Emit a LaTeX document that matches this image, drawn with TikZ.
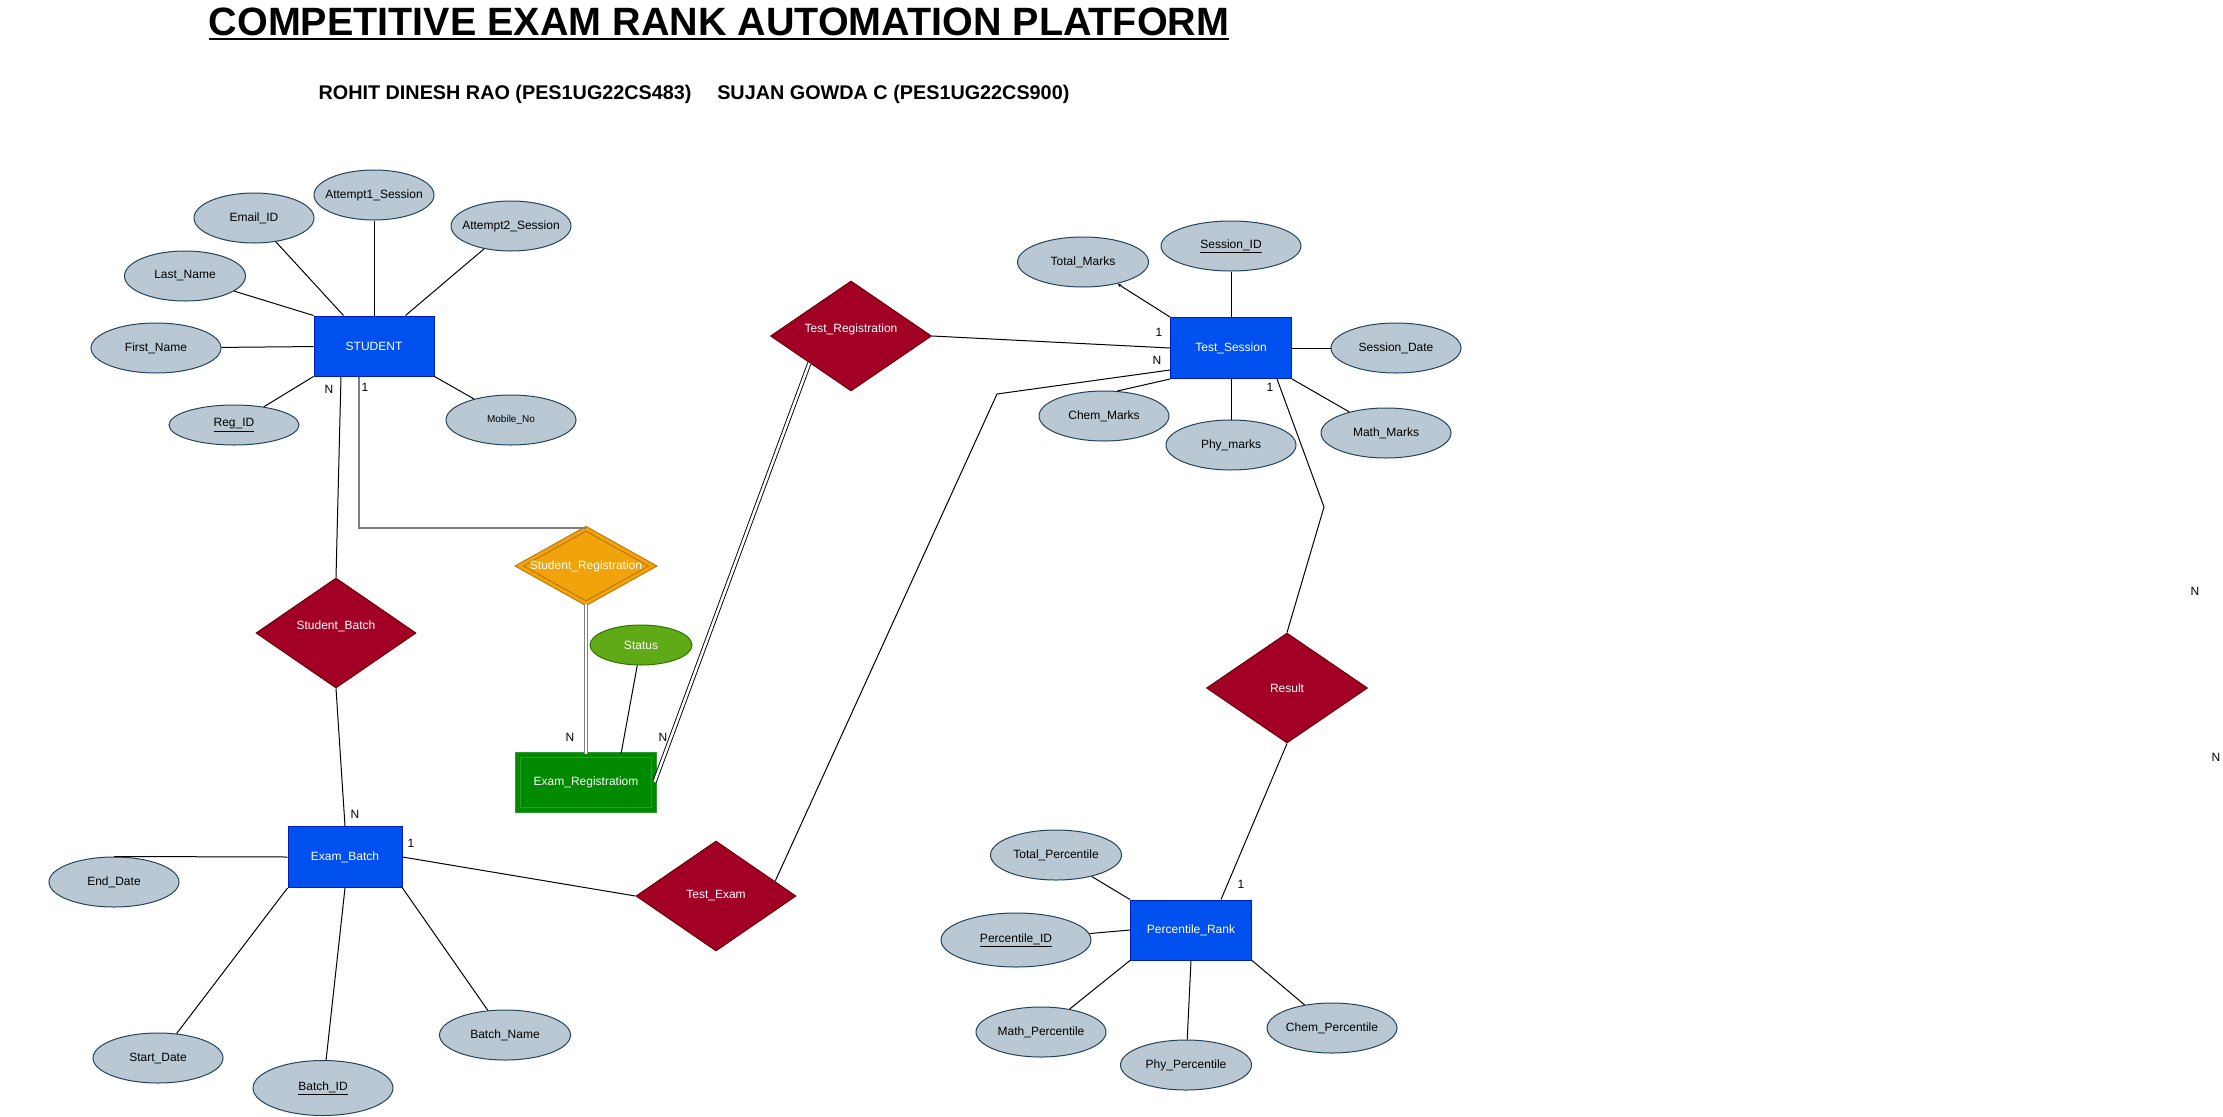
\documentclass[tikz,border=0pt]{standalone}
\usepackage{fontspec}
\setmainfont{Liberation Sans}
\usepackage{tikz}
\usetikzlibrary{arrows.meta,shapes.geometric,calc}
\definecolor{entfill}{HTML}{0050EF}
\definecolor{entline}{HTML}{001DBC}
\definecolor{relfill}{HTML}{A20025}
\definecolor{relline}{HTML}{6F0000}
\definecolor{attfill}{HTML}{BAC8D3}
\definecolor{attline}{HTML}{23445D}
\definecolor{regfill}{HTML}{F0A30A}
\definecolor{regline}{HTML}{BD7000}
\definecolor{wkfill}{HTML}{008A00}
\definecolor{wkline}{HTML}{2D9A2D}
\definecolor{stfill}{HTML}{60A917}
\definecolor{stline}{HTML}{2D7600}

\begin{document}
\begin{tikzpicture}[x=1pt, y=-1pt,
    every node/.style={font=\fontsize{12}{14}\selectfont, align=center},
    ent/.style={draw=entline, fill=entfill, text=white, line width=1pt,
                minimum width=120pt, minimum height=60pt, inner sep=0pt},
    rel/.style={diamond, draw=relline, fill=relfill, text=white, line width=1pt,
                minimum width=160pt, minimum height=110pt, inner sep=0pt, aspect=1.45},
    att/.style={ellipse, draw=attline, fill=attfill, line width=1pt,
                minimum width=130pt, minimum height=50pt, inner xsep=-14pt, inner ysep=0pt},
    lnk/.style={line width=1pt},
    glnk/.style={line width=1.5pt, draw=gray},
    gdbl/.style={line width=1.2pt, draw=gray, double=white, double distance=2pt},
    bdbl/.style={line width=0.9pt, draw=black, double=white, double distance=2.5pt},
    card/.style={inner sep=0pt},
  ]
  \useasboundingbox (0,0) rectangle (2223,1116);

  \node[font=\fontsize{39.5}{46}\selectfont\bfseries, anchor=base, inner sep=0pt] (ttl) at (719,36) {COMPETITIVE EXAM RANK AUTOMATION PLATFORM};
  \draw[line width=2.5pt] ([yshift=-3pt]ttl.base west) -- ([yshift=-3pt]ttl.base east);
  \node[font=\fontsize{19.8}{24}\selectfont\bfseries, anchor=base] (auth) at (694,99) {ROHIT DINESH RAO (PES1UG22CS483)\hspace{1.3em}SUJAN GOWDA C (PES1UG22CS900)};

  % entities
  \node[ent] (stu) at (374,346) {STUDENT};
  \node[ent, minimum width=114pt, minimum height=61pt] (ebatch) at (345,857) {Exam\_Batch};
  \node[ent, minimum width=121pt, minimum height=61pt] (tses) at (1231,348) {Test\_Session};
  \node[ent, minimum width=121pt] (prank) at (1191,930) {Percentile\_Rank};
  \node[ent, draw=wkline, fill=wkfill, double=wkfill, double distance=4pt,
        minimum width=136pt, minimum height=55pt] (ereg) at (586,782) {Exam\_Registratiom};

  % relationships
  \node[rel, text depth=16pt] (sbatch) at (336,633) {Student\_Batch};
  \node[rel, minimum width=161pt, text depth=16pt] (treg) at (851,336) {Test\_Registration};
  \node[rel] (tex) at (716,896) {Test\_Exam};
  \node[rel, minimum width=161pt] (res) at (1287,688) {Result};
  \node[rel, draw=regline, fill=regfill, double=regfill, double distance=3pt,
        minimum width=134pt, minimum height=75pt, aspect=1.77] (sreg) at (586,566) {Student\_Registration};

  % attributes
  \node[att, minimum width=121pt] (lname) at (185,276) {Last\_Name};
  \node[att, minimum width=120pt] (email) at (254,218) {Email\_ID};
  \node[att, minimum width=120pt] (att1) at (374,195) {Attempt1\_Session};
  \node[att, minimum width=120pt] (att2) at (511,226) {Attempt2\_Session};
  \node[att] (fname) at (156,348) {First\_Name};
  \node[att, minimum height=40pt] (regid) at (234,425) {\underline{Reg\_ID}};
  \node[att, font=\fontsize{10}{12}\selectfont] (mob) at (511,420) {Mobile\_No};
  \node[ellipse, draw=stline, fill=stfill, text=white, line width=1pt, inner sep=0pt,
        minimum width=102pt, minimum height=40pt] (status) at (641,645) {Status};

  \node[att, minimum width=140pt] (sid) at (1231,246) {\underline{Session\_ID}};
  \node[att, minimum width=131pt] (tmarks) at (1083,262) {Total\_Marks};
  \node[att] (sdate) at (1396,348) {Session\_Date};
  \node[att] (cmarks) at (1104,416) {Chem\_Marks};
  \node[att] (pmarks) at (1231,445) {Phy\_marks};
  \node[att] (mmarks) at (1386,433) {Math\_Marks};

  \node[att, minimum width=131pt] (tperc) at (1056,855) {Total\_Percentile};
  \node[att, minimum width=150pt, minimum height=54pt] (percid) at (1016,940) {\underline{Percentile\_ID}};
  \node[att] (mperc) at (1041,1032) {Math\_Percentile};
  \node[att, minimum width=131pt] (pperc) at (1186,1065) {Phy\_Percentile};
  \node[att] (cperc) at (1332,1028) {Chem\_Percentile};

  \node[att] (edate) at (114,882) {End\_Date};
  \node[att] (stdate) at (158,1058) {Start\_Date};
  \node[att, minimum width=140pt, minimum height=55pt] (bid) at (323,1088) {\underline{Batch\_ID}};
  \node[att, minimum width=131pt] (bname) at (505,1035) {Batch\_Name};

  % cardinalities
  \node[card] (c1) at (329,389) {N};
  \node[card] (c2) at (365,387) {1};
  \node[card] (c3) at (355,814) {N};
  \node[card] (c4) at (411,843) {1};
  \node[card] (c5) at (570,737) {N};
  \node[card] (c6) at (663,737) {N};
  \node[card] (c7) at (1159,332) {1};
  \node[card] (c8) at (1157,360) {N};
  \node[card] (c9) at (1270,387) {1};
  \node[card] (c10) at (1241,884) {1};
  \node[card] (c11) at (2195,591) {N};
  \node[card] (c12) at (2216,757) {N};

  \coordinate (tbend) at (997,394);
  \coordinate (rbend) at (1324,507);

  % links
  \draw[lnk] (lname) -- (stu.north west);
  \draw[lnk] (email) -- ([xshift=30pt]stu.north west);
  \draw[lnk] (att1) -- (stu);
  \draw[lnk] (att2) -- ([xshift=-29pt]stu.north east);
  \draw[lnk] (fname) -- (stu);
  \draw[lnk] (regid) -- (stu.south west);
  \draw[lnk] (mob) -- (stu.south east);

  \draw[lnk] ([xshift=-33pt]stu.south) -- (sbatch.north);
  \draw[glnk] ([xshift=-15pt]stu.south) |- (sreg.north);
  \draw[lnk] (sbatch.south) -- (ebatch.north);
  \draw[gdbl] (sreg.south) -- (ereg.north);
  \draw[lnk] (status) -- ([xshift=35pt]ereg.north);
  \draw[bdbl] (ereg.east) -- (treg.213);
  \draw[lnk] (treg.east) -- (tses.west);
  \draw[lnk] ([yshift=-22pt]tses.west) -- (tbend) -- (tex.14);

  \draw[lnk, -{Stealth[length=4pt, width=3pt]}] (tses.north west) -- (tmarks);
  \draw[lnk] (sid) -- (tses);
  \draw[lnk] (sdate) -- (tses);
  \draw[lnk] (pmarks) -- (tses);
  \draw[lnk] (tses.south east) -- (mmarks);
  \draw[lnk] (tses.south west) -- (cmarks.62);
  \draw[lnk] ([xshift=46pt]tses.south) -- (rbend) -- (res.north);

  \draw[lnk] (res.south) -- ([xshift=30pt]prank.north);
  \draw[lnk] (tperc) -- (prank.north west);
  \draw[lnk] (percid) -- (prank.west);
  \draw[lnk] (prank.south west) -- (mperc);
  \draw[lnk] (prank.south) -- (pperc);
  \draw[lnk] (prank.south east) -- (cperc);

  \draw[lnk] (edate.north) -- (ebatch.west);
  \draw[lnk] (ebatch.south west) -- (stdate);
  \draw[lnk] (ebatch.south) -- (bid);
  \draw[lnk] (ebatch.south east) -- (bname);
  \draw[lnk] (ebatch.east) -- (tex.west);
\end{tikzpicture}
\end{document}
